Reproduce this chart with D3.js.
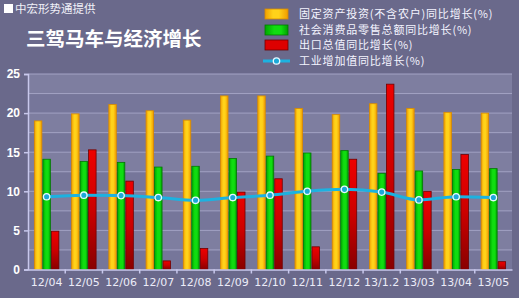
<!DOCTYPE html>
<html><head><meta charset="utf-8">
<script src="https://cdn.jsdelivr.net/npm/d3@7"></script>
<style>html,body{margin:0;padding:0;background:#6a698b;}svg{display:block;}</style>
</head><body><div id="chart"></div>
<script>
const categories = ["12/04","12/05","12/06","12/07","12/08","12/09","12/10","12/11","12/12","13/1.2","13/03","13/04","13/05"];
const fixedAsset = [19.0,19.9,21.1,20.3,19.1,22.2,22.2,20.6,19.8,21.2,20.6,20.1,20.0];
const retail     = [14.1,13.8,13.7,13.1,13.2,14.2,14.5,14.9,15.2,12.3,12.6,12.8,12.9];
const exportsG   = [4.9,15.3,11.3,1.1,2.7,9.9,11.6,2.9,14.1,23.7,10.0,14.7,1.0];
const industry   = [9.3,9.5,9.45,9.2,8.85,9.2,9.5,10.0,10.25,9.9,8.9,9.3,9.2];
const yTicks = [0,5,10,15,20,25];
const seriesNames = ["固定资产投资(不含农户)同比增长(%)","社会消费品零售总额同比增长(%)","出口总值同比增长(%)","工业增加值同比增长(%)"];

const W=519,H=298;
const svg=d3.select("#chart").append("svg").attr("width",W).attr("height",H);
const defs=svg.append("defs");
function hgrad(id,stops){const g=defs.append("linearGradient").attr("id",id).attr("x1","0").attr("x2","1").attr("y1","0").attr("y2","0");stops.forEach(s=>g.append("stop").attr("offset",s[0]).attr("stop-color",s[1]));}
function vgrad(id,stops){const g=defs.append("linearGradient").attr("id",id).attr("x1","0").attr("x2","0").attr("y1","0").attr("y2","1");stops.forEach(s=>g.append("stop").attr("offset",s[0]).attr("stop-color",s[1]));}
hgrad("gy",[[0,"#f0a000"],[0.35,"#ffd21a"],[0.6,"#ffd21a"],[1,"#f09c00"]]);
hgrad("gg",[[0,"#00a800"],[0.4,"#10dd10"],[0.7,"#10dd10"],[1,"#00a000"]]);
vgrad("gr",[[0,"#ee0000"],[0.5,"#cc0000"],[1,"#880000"]]);

svg.append("rect").attr("width",W).attr("height",H).attr("fill","#6a698b");

const m={l:28,r:7,t:74,b:28.5};
const x0=d3.scaleBand().domain(categories).range([m.l,W-m.r]).paddingInner(0).paddingOuter(0);
const y=d3.scaleLinear().domain([0,25]).range([269.5,74]);
const bw=8.5;

// plot bands
const bandVals=d3.range(0,25,2.5);
svg.append("g").selectAll("rect").data(bandVals).join("rect")
  .attr("x",m.l).attr("width",W-m.r-m.l)
  .attr("y",d=>y(d+2.5)).attr("height",d=>y(d)-y(d+2.5))
  .attr("fill",(d,i)=>i%2===0?"#76769a":"#7e7ea0");
svg.append("g").selectAll("line").data(d3.range(2.5,25.01,2.5)).join("line")
  .attr("x1",m.l).attr("x2",W-m.r).attr("y1",d=>y(d)).attr("y2",d=>y(d))
  .attr("stroke","#a3a3c4").attr("stroke-width",1);

// bars
const series=[{v:fixedAsset,f:"url(#gy)",s:"#d88a00",off:-bw},{v:retail,f:"url(#gg)",s:"#007a00",off:0},{v:exportsG,f:"url(#gr)",s:"#700000",off:bw}];
series.forEach(se=>{
  svg.append("g").selectAll("rect").data(categories).join("rect")
    .attr("x",(c)=>x0(c)+x0.bandwidth()/2-bw/2+se.off+0.5)
    .attr("width",bw-1)
    .attr("y",(c,i)=>y(se.v[i]))
    .attr("height",(c,i)=>y(0)-y(se.v[i]))
    .attr("fill",se.f).attr("stroke",se.s).attr("stroke-width",0.8);
});

// line
const line=d3.line().x((d,i)=>x0(categories[i])+x0.bandwidth()/2).y(d=>y(d)).curve(d3.curveMonotoneX);
svg.append("path").datum(industry).attr("d",line).attr("fill","none").attr("stroke","#1cb2e0").attr("stroke-width",3);
svg.append("g").selectAll("circle").data(industry).join("circle")
  .attr("cx",(d,i)=>x0(categories[i])+x0.bandwidth()/2).attr("cy",d=>y(d)).attr("r",3.2)
  .attr("fill","#1ca8d8").attr("stroke","#e8f8ff").attr("stroke-width",1.3);

// axes
const ya=svg.append("g").attr("transform",`translate(${m.l},0)`).call(d3.axisLeft(y).tickValues(yTicks).tickSize(4).tickFormat(d3.format("d")));
ya.select(".domain").attr("stroke","#c8c8ec").attr("stroke-width",1.5);
ya.selectAll(".tick line").attr("stroke","#c8c8ec").attr("stroke-width",1.5);
ya.selectAll("text").attr("fill","#ffffff").attr("font-family","Liberation Sans, Arial, sans-serif").attr("font-size",12).attr("font-weight","bold").attr("dx",-1);

const xa=svg.append("g").attr("transform",`translate(0,${y(0)})`).call(d3.axisBottom(x0).tickSize(0).tickPadding(10));
xa.select(".domain").attr("stroke","#c8c8ec").attr("stroke-width",1.5);
xa.selectAll("text").attr("fill","#ececf8").attr("font-family","DejaVu Sans, sans-serif").attr("font-size",11).attr("dy","0.6em");
svg.append("g").selectAll("line").data(categories.slice(1)).join("line")
  .attr("x1",c=>x0(c)).attr("x2",c=>x0(c)).attr("y1",y(0)).attr("y2",y(0)+4)
  .attr("stroke","#c8c8ec").attr("stroke-width",1.5);

// titles
svg.append("rect").attr("x",4).attr("y",4).attr("width",9).attr("height",9).attr("fill","#ffffff");
svg.append("text").attr("x",15).attr("y",13).text("中宏形势通提供").attr("fill","#f0f0f8")
  .attr("font-family","Noto Sans CJK SC").attr("font-size",11.5);
svg.append("text").attr("x",26).attr("y",46).text("三驾马车与经济增长").attr("fill","#ffffff")
  .attr("font-family","Noto Sans CJK SC").attr("font-size",19.5).attr("font-weight","bold");

// legend
const lg=svg.append("g");
const legY=[14,30,45,61];
const fills=["url(#gy)","url(#gg)","url(#gr)"];
const strokes=["#d88a00","#007a00","#700000"];
seriesNames.forEach((n,i)=>{
  if(i<3){
    lg.append("rect").attr("x",265).attr("y",legY[i]-5).attr("width",23).attr("height",10)
      .attr("fill",fills[i]==="url(#gr)"?"#dd0000":fills[i]).attr("stroke",strokes[i]).attr("stroke-width",0.8);
  } else {
    lg.append("line").attr("x1",263).attr("x2",290).attr("y1",legY[i]).attr("y2",legY[i]).attr("stroke","#1cb2e0").attr("stroke-width",3);
    lg.append("circle").attr("cx",276.5).attr("cy",legY[i]).attr("r",3.2).attr("fill","#1ca8d8").attr("stroke","#e8f8ff").attr("stroke-width",1.3);
  }
  lg.append("text").attr("x",299).attr("y",legY[i]+4).text(n).attr("fill","#f4f4ff")
    .attr("font-family","Noto Sans CJK SC").attr("font-size",11).attr("letter-spacing",0.8);
});
</script></body></html>
